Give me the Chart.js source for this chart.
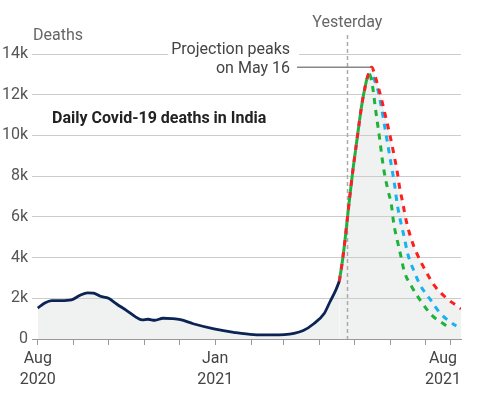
<!DOCTYPE html>
<html><head><meta charset="utf-8">
<style>html,body{margin:0;padding:0;background:#fff}#wrap{width:480px;height:395px;position:relative}</style>
<script src="https://cdn.jsdelivr.net/npm/chart.js@4.4.0/dist/chart.umd.min.js"></script>
</head><body><div id="wrap"><canvas id="c" width="480" height="395"></canvas></div>
<script>
// x values are days since 1 Aug 2020
const actualDays   = [0,6,12,20,29,36,43,48,54,61,68,77,84,90,95,101,108,116,123,134,152,169,186,203,221,229,238,247,252,257,260];
const actualDeaths = [1520,1770,1885,1885,1920,2135,2270,2250,2100,2000,1720,1385,1100,935,970,920,1020,1000,950,750,500,330,215,200,280,415,750,1250,1830,2400,2830];

const riseDays   = [260,262,264,266,268,270,272,274,276,278,280,282,284];
const riseDeaths = [2830,3550,4400,5400,6450,7450,8400,9250,10100,10950,11700,12300,12800];

const redDays   = [286,288,291,294,297,300,304,307,310,312,315,318,322,327,334,342,352,363,365];
const redDeaths = [13150,13350,12900,12300,11650,10920,9930,9110,8210,7470,6620,5750,4930,4190,3400,2630,2030,1565,1480];

const blueDays   = [287,290,293,296,299,302,305,308,310,313,316,319,324,330,338,347,358,361];
const blueDeaths = [13050,12750,12310,11490,10500,9500,8500,7470,6620,5750,5010,4190,3400,2630,1980,1270,750,640];

const greenDays   = [286,289,291,293,295,297,299,302,305,307,310,313,316,323,331,340,352,354];
const greenDeaths = [13000,12310,11410,10590,9770,8870,8130,7310,6570,5670,4850,4110,3340,2520,1810,1160,660,560];

const monthTickDays = [0,31,61,92,122,153,184,212,243,273,304,334,356];
const xLabelDays  = [0,153,356];
const xLabelTexts = [['Aug','2020'],['Jan','2021'],['Aug','2021']];
const yTickValues = [0,2000,4000,6000,8000,10000,12000,14000];

const yesterdayDay = 267;
const peakDay = 288;
const peakValue = 13350;

const toXY = (xs, ys) => xs.map((x, i) => ({x: x, y: ys[i]}));
const proj = (days, vals) => toXY(riseDays.concat(days), riseDeaths.concat(vals));

const FONT = 'Roboto, "Noto Sans", sans-serif';
const FILL = '#f0f1f1';

const annot = {
  id: 'annot',
  beforeDatasetsDraw(chart) {
    const {ctx, chartArea, scales: {x, y}} = chart;
    ctx.save();
    const xy = Math.round(x.getPixelForValue(yesterdayDay)) + 0.5;
    ctx.strokeStyle = '#aaa';
    ctx.lineWidth = 1.5;
    ctx.setLineDash([4, 3]);
    ctx.beginPath();
    ctx.moveTo(xy, 35);
    ctx.lineTo(xy, chartArea.bottom);
    ctx.stroke();
    ctx.setLineDash([]);
    ctx.strokeStyle = '#888';
    ctx.lineWidth = 1.5;
    const py = y.getPixelForValue(peakValue);
    ctx.beginPath();
    ctx.moveTo(297, py);
    ctx.lineTo(x.getPixelForValue(peakDay), py);
    ctx.stroke();
    ctx.restore();
  },
  afterDraw(chart) {
    const {ctx, chartArea, scales: {x}} = chart;
    ctx.save();
    ctx.fillStyle = '#fff';
    ctx.fillRect(168, 49, 131, 11);
    ctx.font = '16px ' + FONT;
    ctx.textBaseline = 'middle';
    ctx.fillStyle = '#666';
    ctx.textAlign = 'left';
    ctx.fillText('Deaths', 33, 36);
    ctx.textAlign = 'center';
    ctx.fillText('Yesterday', x.getPixelForValue(yesterdayDay), 23);
    ctx.fillStyle = '#444';
    ctx.textAlign = 'right';
    ctx.fillText('Projection peaks', 290, 50);
    ctx.fillText('on May 16', 290, 69);
    ctx.font = 'bold 16px ' + FONT;
    ctx.fillStyle = '#222';
    ctx.textAlign = 'left';
    ctx.fillText('Daily Covid-19 deaths in India', 52, 119);
    ctx.font = '16px ' + FONT;
    ctx.fillStyle = '#444';
    ctx.textAlign = 'center';
    xLabelDays.forEach((d, i) => {
      const lines = xLabelTexts[i];
      const w = Math.max(...lines.map(t => ctx.measureText(t).width));
      let cx = x.getPixelForValue(d);
      if (cx + w / 2 > chartArea.right) cx = chartArea.right - w / 2;
      lines.forEach((t, j) => ctx.fillText(t, cx, 359 + j * 21));
    });
    ctx.restore();
  }
};

new Chart(document.getElementById('c'), {
  type: 'line',
  data: {
    datasets: [
      {data: toXY(actualDays, actualDeaths), borderColor: '#0b2455', borderWidth: 2.8,
       fill: 'origin', backgroundColor: FILL, order: 0},
      {data: proj(greenDays, greenDeaths), borderColor: '#1db33b', borderWidth: 3,
       borderDash: [6, 6], borderDashOffset: 6, fill: false, order: 1},
      {data: proj(redDays, redDeaths), borderColor: '#ff1e1e', borderWidth: 3,
       borderDash: [6, 6], fill: 'origin', backgroundColor: FILL, order: 2},
      {data: proj(blueDays, blueDeaths), borderColor: '#19b2ee', borderWidth: 3,
       borderDash: [6, 6], fill: false, order: 3}
    ]
  },
  options: {
    responsive: false,
    animation: false,
    devicePixelRatio: 1,
    layout: {padding: {top: 54, right: 19, bottom: 0, left: 0}},
    elements: {
      point: {radius: 0},
      line: {cubicInterpolationMode: 'monotone', borderCapStyle: 'butt'}
    },
    plugins: {
      legend: {display: false},
      tooltip: {enabled: false},
      filler: {drawTime: 'beforeDraw'}
    },
    scales: {
      x: {
        type: 'linear', min: -5, max: 365,
        afterBuildTicks: s => { s.ticks = monthTickDays.map(v => ({value: v})); },
        afterFit: s => { s.height = 56; s.paddingLeft = 0; s.paddingRight = 0; },
        ticks: {callback: () => '', autoSkip: false, maxRotation: 0},
        grid: {drawOnChartArea: false, drawTicks: true, tickLength: 6, color: '#999', lineWidth: 1},
        border: {display: true, color: '#999', width: 1}
      },
      y: {
        min: 0, max: 14000,
        afterBuildTicks: s => { s.ticks = yTickValues.map(v => ({value: v})); },
        afterFit: s => { s.width = 32; s.paddingTop = 0; s.paddingBottom = 0; },
        ticks: {
          callback: v => v === 0 ? '0' : (v / 1000) + 'k',
          font: {family: FONT, size: 16}, color: '#555', padding: 4
        },
        grid: {color: '#cccccc', lineWidth: 1, drawTicks: false},
        border: {display: false}
      }
    }
  },
  plugins: [annot]
});
</script>
</body></html>
